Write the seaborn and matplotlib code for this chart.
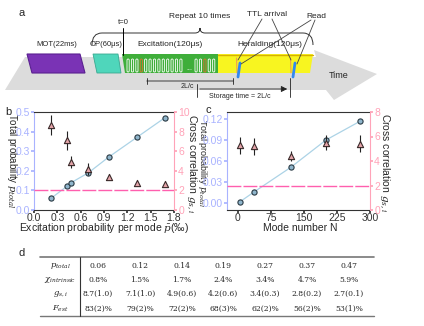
import numpy as np
import pandas as pd
import matplotlib
matplotlib.use("Agg")
import matplotlib.pyplot as plt
import seaborn as sns
from matplotlib.patches import Polygon, FancyBboxPatch
from matplotlib.path import Path
from matplotlib.patches import PathPatch
from matplotlib import font_manager

# ---------------- data ----------------
# panel b
b_pbar = [0.22, 0.42, 0.48, 0.70, 0.96, 1.32, 1.68]
b_ptotal = [0.06, 0.12, 0.14, 0.19, 0.27, 0.37, 0.47]
b_gsi = [8.7, 7.1, 4.9, 4.2, 3.4, 2.8, 2.7]
b_gsi_err = [1.0, 1.0, 0.6, 0.6, 0.3, 0.2, 0.1]
# panel c
c_modes = [5, 37, 120, 200, 278]
c_ptotal = [0.002, 0.016, 0.051, 0.090, 0.117]
c_gsi = [5.3, 5.2, 4.4, 5.5, 5.4]
c_gsi_err = [0.7, 0.7, 0.4, 0.6, 0.7]
classical_bound = 2
# panel d table
row_labels = [r"$p_{total}$", r"$\chi_{intrinsic}$", r"$g_{s,i}$", r"$F_{est}$"]
tab_ptotal = ["0.06", "0.12", "0.14", "0.19", "0.27", "0.37", "0.47"]
tab_chi = ["0.8%", "1.5%", "1.7%", "2.4%", "3.4%", "4.7%", "5.9%"]
tab_gsi = ["8.7(1.0)", "7.1(1.0)", "4.9(0.6)", "4.2(0.6)", "3.4(0.3)", "2.8(0.2)", "2.7(0.1)"]
tab_fest = ["83(2)%", "79(2)%", "72(2)%", "68(3)%", "62(2)%", "56(2)%", "53(1)%"]

sns.set_theme(style="ticks")
names = {f.name for f in font_manager.fontManager.ttflist}
NARROW = 'Liberation Sans Narrow' if 'Liberation Sans Narrow' in names else 'Liberation Sans'
plt.rcParams['font.family'] = [NARROW, 'DejaVu Sans']
plt.rcParams['mathtext.fontset'] = 'dejavuserif'

LEFTC = '#a9b3ff'
RIGHTC = '#ffa3b8'
CIRC = '#8fb5cc'
LINEC = '#acd3e6'
TRI = '#e3a3a8'
DASH = '#ff5fae'
TICKFS = 7.5

W, H = 424, 326
fig = plt.figure(figsize=(W/100, H/100), dpi=100)
ov = fig.add_axes([0, 0, 1, 1], zorder=0)
ov.set_xlim(0, W); ov.set_ylim(H, 0); ov.axis('off')
ov.patch.set_alpha(0)

# ---------------- panel a schematic ----------------
LS = 'Liberation Sans'
ov.text(22, 13, "a", fontsize=8, ha='center', va='center', family=LS)
ov.add_patch(Polygon([(25, 57), (316, 57), (314, 50), (377, 74), (334, 100), (326, 90), (5, 90)],
                     closed=True, fc='#dcdcdc', ec='none'))
ov.add_patch(Polygon([(27, 54), (80, 54), (85, 73), (32, 73)], fc='#7a33b5', ec='#5a2090', lw=0.8))
ov.add_patch(Polygon([(93, 54), (118, 54), (121, 73), (97, 73)], fc='#4fd6bb', ec='#3aa890', lw=0.6))
ov.add_patch(Polygon([(122, 54), (218, 54), (218, 73), (125, 73)], fc='#3fae3a', ec='none'))
ov.add_patch(Polygon([(218, 54), (313, 54), (310, 73), (218, 73)], fc='#f8f520', ec='none'))
ov.plot([218, 313], [54.5, 54.5], color='#d8b000', lw=1)
# pulses
xs = list(np.arange(127, 184, 4.4)) + list(np.arange(195, 216, 4.4))
for i, x in enumerate(xs):
    col = '#e07030' if i in (3, 15) else 'white'
    ov.add_patch(FancyBboxPatch((x, 59), 2.2, 13, boxstyle="round,pad=0,rounding_size=1.1",
                                fc='none', ec=col, lw=0.6))
ov.text(189, 68, "...", fontsize=5, color='white', ha='center', va='center')
ov.text(57, 45, "MOT(22ms)", fontsize=5.5, ha='center', va='center', family=LS)
ov.text(106, 45, "OP(60μs)", fontsize=5.5, ha='center', va='center', family=LS)
ov.text(170, 45, "Excitation(120μs)", fontsize=6, ha='center', va='center', family=LS)
ov.text(270, 45, "Heralding(120μs)", fontsize=6, ha='center', va='center', family=LS)
ov.text(123, 23, "t=0", fontsize=5.5, ha='center', va='center', family=LS)
ov.plot([123, 123], [28, 55], color='black', lw=0.7)
# brace
verts = [(92, 45), (92, 33), (102, 33), (195, 33), (200, 33), (200, 28), (200, 33), (205, 33),
         (303, 33), (313, 33), (313, 45)]
codes = [Path.MOVETO, Path.CURVE3, Path.CURVE3, Path.LINETO, Path.CURVE3, Path.CURVE3,
         Path.CURVE3, Path.CURVE3, Path.LINETO, Path.CURVE3, Path.CURVE3]
ov.add_patch(PathPatch(Path(verts, codes), fc='none', ec='#333333', lw=0.7))
ov.text(200, 16, "Repeat 10 times", fontsize=6, ha='center', va='center', family=LS)
ov.text(267, 14, "TTL arrival", fontsize=6, ha='center', va='center', family=LS)
ov.text(316, 16, "Read", fontsize=6, ha='center', va='center', family=LS)
for x0, x1 in [(237, 239), (291, 293)]:
    ov.plot([x0, x1 - 2.5], [73, 58], color='#f0a050', lw=0.8)
for xt in (239, 294):
    ov.plot([xt + 1, xt - 1], [63, 77], color='#3388ee', lw=2)
ov.plot([262, 238], [19, 60], color='#444444', lw=0.6)
ov.plot([272, 291], [19, 60], color='#444444', lw=0.6)
ov.plot([311, 241], [20, 64], color='#444444', lw=0.6)
ov.plot([315, 297], [20, 64], color='#444444', lw=0.6)
ov.annotate("", xy=(236, 81), xytext=(144, 81),
            arrowprops=dict(arrowstyle='|-|,widthA=0.2,widthB=0.2', lw=0.6, color='#222'))
ov.text(187, 86, "2L/c", fontsize=5, ha='center', va='center', family=LS)
ov.plot([197, 197], [84, 97], color='#222', lw=0.6)
ov.plot([290, 290], [78, 97], color='#222', lw=0.6)
ov.annotate("", xy=(290, 89), xytext=(197, 89),
            arrowprops=dict(arrowstyle='-|>,head_length=0.3,head_width=0.15', lw=0.6, color='#222'))
ov.text(240, 96.5, "Storage time = 2L/c", fontsize=5, ha='center', va='center', family=LS)
ov.text(339, 76, "Time", fontsize=6.5, ha='center', va='center', family=LS)

# ---------------- panels b, c ----------------
def style_twin(ax, ax2):
    ax.spines['left'].set_color(LEFTC)
    ax.spines['right'].set_visible(False)
    ax.spines['top'].set_visible(True)
    ax.spines['top'].set_color('#333333')
    ax.spines['bottom'].set_color('#333333')
    ax.tick_params(axis='y', colors=LEFTC, labelsize=TICKFS, length=2, pad=1)
    ax.tick_params(axis='x', colors='#333333', labelsize=TICKFS, length=2, pad=0.5)
    for s in ('left', 'top', 'bottom'):
        ax2.spines[s].set_visible(False)
    ax2.spines['right'].set_visible(True)
    ax2.spines['right'].set_color(RIGHTC)
    ax2.tick_params(axis='y', colors=RIGHTC, labelsize=TICKFS, length=2, pad=1)
    for a in (ax, ax2):
        for s in a.spines.values():
            s.set_linewidth(0.8)

def draw(ax, x, p, g, gerr):
    ax2 = ax.twinx()
    df = pd.DataFrame({'x': x, 'p': p, 'g': g})
    sns.lineplot(data=df, x='x', y='p', ax=ax, color=LINEC, lw=0.9, zorder=2)
    sns.scatterplot(data=df, x='x', y='p', ax=ax, color=CIRC, edgecolor='#2a3a44',
                    linewidth=0.8, s=14, zorder=3)
    ax2.errorbar(x, g, yerr=gerr, fmt='none', ecolor='#222222', elinewidth=0.8, zorder=3)
    sns.scatterplot(data=df, x='x', y='g', ax=ax2, marker='^', color=TRI,
                    edgecolor='#3a2a2a', linewidth=0.8, s=20, zorder=4)
    ax2.axhline(classical_bound, color=DASH, lw=1.0, dashes=(10, 1.5), zorder=1)
    ax.set_xlabel(''); ax.set_ylabel(''); ax2.set_xlabel(''); ax2.set_ylabel('')
    style_twin(ax, ax2)
    return ax2

axb = fig.add_axes([34/W, 1 - 210/H, 140/W, 98/H], zorder=2)
axb.patch.set_alpha(0)
axb2 = draw(axb, b_pbar, b_ptotal, b_gsi, b_gsi_err)
axb.set_xlim(0, 1.8); axb.set_ylim(0, 0.5)
axb.set_xticks([0.0, 0.3, 0.6, 0.9, 1.2, 1.5, 1.8])
axb.set_yticks([0.0, 0.1, 0.2, 0.3, 0.4, 0.5])
axb2.set_ylim(0, 10); axb2.set_yticks([0, 2, 4, 6, 8, 10])
axb.xaxis.set_major_formatter(matplotlib.ticker.FormatStrFormatter('%.1f'))
axb.yaxis.set_major_formatter(matplotlib.ticker.FormatStrFormatter('%.1f'))

axc = fig.add_axes([227/W, 1 - 210/H, 143/W, 98/H], zorder=2)
axc.patch.set_alpha(0)
axc2 = draw(axc, c_modes, c_ptotal, c_gsi, c_gsi_err)
axc.set_xlim(-25, 300); axc.set_ylim(-0.01, 0.13)
axc.set_xticks([0, 75, 150, 225, 300])
axc.set_yticks([0.0, 0.03, 0.06, 0.09, 0.12])
axc.yaxis.set_major_formatter(matplotlib.ticker.FormatStrFormatter('%.2f'))
axc2.set_ylim(0, 8); axc2.set_yticks([0, 2, 4, 6, 8])

# axis labels
ov.text(12, 161, r"Total probability $p_{total}$", rotation=270, fontsize=7,
        ha='center', va='center')
ov.text(192, 164, r"Cross correlation $g_{s,i}$", rotation=270, fontsize=7.5,
        ha='center', va='center')
ov.text(203, 163, r"Total probability $p_{total}$", rotation=270, fontsize=6.5,
        ha='center', va='center')
ov.text(385, 163, r"Cross correlation $g_{s,i}$", rotation=270, fontsize=7.5,
        ha='center', va='center')
ov.text(104, 228, r"Excitation probability per mode $\bar{p}$(‰)", fontsize=7.5,
        ha='center', va='center')
ov.text(300, 228, "Mode number N", fontsize=7.5, ha='center', va='center')
ov.text(8, 112, "b", fontsize=8, ha='center', va='center', family=LS)
ov.text(208, 110, "c", fontsize=8, ha='center', va='center', family=LS)

# ---------------- panel d table ----------------
ov.text(22, 253, "d", fontsize=8, ha='center', va='center', family=LS)
ov.plot([40, 374], [257, 257], color='#777777', lw=1.2)
ov.plot([40, 374], [316, 316], color='#777777', lw=1.0)
ov.plot([80, 80], [257, 316], color='#333333', lw=0.8)
col_x = [98, 140, 182, 223, 265, 307, 349]
row_y = [266, 280, 294, 308.5]
rows = [tab_ptotal, tab_chi, tab_gsi, tab_fest]
for ry, lab, vals in zip(row_y, row_labels, rows):
    ov.text(60, ry, lab, fontsize=6, ha='center', va='center')
    for cx, v in zip(col_x, vals):
        ov.text(cx, ry, v, fontsize=5.5, ha='center', va='center', family='DejaVu Serif')

fig.savefig("out.png", dpi=100)
